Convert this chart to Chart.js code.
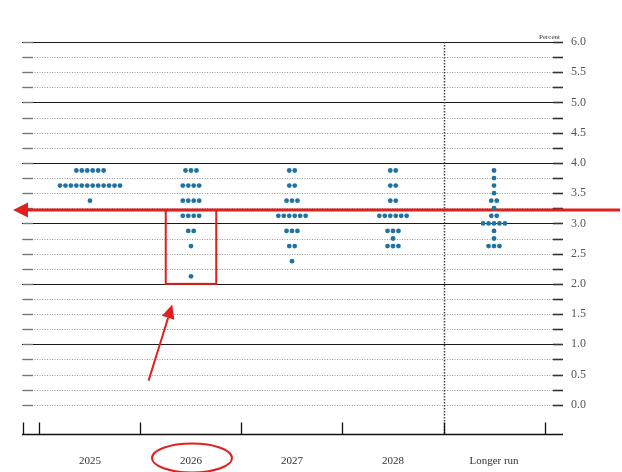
<!DOCTYPE html>
<html><head><meta charset="utf-8">
<script src="https://cdn.jsdelivr.net/npm/chart.js@4.4.1/dist/chart.umd.min.js"></script>
<style>html,body{margin:0;padding:0;background:#fff;} canvas{display:block;}</style>
</head><body>
<canvas id="c" width="622" height="472"></canvas>
<script>
// ---- data (FOMC dot plot, percent) ----
const categories = ['2025', '2026', '2027', '2028', 'Longer run'];
const rates2025  = [3.875, 3.625, 3.375];
const counts2025 = [6, 12, 1];
const rates2026  = [3.875, 3.625, 3.375, 3.125, 2.875, 2.625, 2.125];
const counts2026 = [3, 4, 4, 4, 2, 1, 1];
const rates2027  = [3.875, 3.625, 3.375, 3.125, 2.875, 2.625, 2.375];
const counts2027 = [2, 2, 3, 6, 3, 2, 1];
const rates2028  = [3.875, 3.625, 3.375, 3.125, 2.875, 2.75, 2.625];
const counts2028 = [2, 2, 2, 6, 3, 1, 3];
const ratesLR    = [3.875, 3.75, 3.625, 3.5, 3.375, 3.25, 3.125, 3.0, 2.875, 2.75, 2.625];
const countsLR   = [1, 1, 1, 1, 2, 1, 2, 5, 1, 1, 3];
const yTickLabels = ['0.0','0.5','1.0','1.5','2.0','2.5','3.0','3.5','4.0','4.5','5.0','5.5','6.0'];
const arrowLevel = 3.22;   // red horizontal annotation level
const boxLow = 2.0;        // red box bottom level

const groups = [[rates2025, counts2025], [rates2026, counts2026], [rates2027, counts2027], [rates2028, counts2028], [ratesLR, countsLR]];
const dotStep = 0.054;
const points = [];
groups.forEach(([rates, counts], i) => {
  rates.forEach((r, j) => {
    const n = counts[j];
    for (let k = 0; k < n; k++) points.push({ x: i + (k - (n - 1) / 2) * dotStep, y: r });
  });
});

const serif = '"Liberation Serif", "DejaVu Serif", serif';

const decor = {
  id: 'decor',
  beforeDatasetsDraw(chart) {
    const { ctx, chartArea: a, scales: { x, y } } = chart;
    ctx.save();
    // horizontal grid lines every 0.25
    for (let v = 0; v <= 6.0001; v += 0.25) {
      const py = Math.round(y.getPixelForValue(v)) + 0.5;
      const isInt = Math.abs(v - Math.round(v)) < 1e-6 && v > 0;
      ctx.beginPath();
      if (isInt) {
        ctx.strokeStyle = '#1a1a1a'; ctx.lineWidth = 1.2; ctx.setLineDash([]);
      } else {
        ctx.strokeStyle = '#999'; ctx.lineWidth = 1; ctx.setLineDash([1, 1.5]);
      }
      ctx.moveTo(a.left, py); ctx.lineTo(a.right, py); ctx.stroke();
      // end ticks
      ctx.setLineDash([]);
      ctx.strokeStyle = '#777'; ctx.lineWidth = 1.4;
      ctx.beginPath(); ctx.moveTo(a.left + 1, py); ctx.lineTo(a.left + 11, py); ctx.stroke();
      ctx.strokeStyle = '#333'; ctx.lineWidth = 1.6;
      ctx.beginPath(); ctx.moveTo(a.right - 10, py); ctx.lineTo(a.right, py); ctx.stroke();
    }
    // vertical dotted separator before "Longer run"
    const sx = Math.round(x.getPixelForValue(3.5)) + 0.5;
    ctx.setLineDash([1.5, 1.5]); ctx.strokeStyle = '#444'; ctx.lineWidth = 1.5;
    ctx.beginPath(); ctx.moveTo(sx, a.top); ctx.lineTo(sx, a.bottom); ctx.stroke();
    // bottom axis line with ticks
    ctx.setLineDash([]); ctx.strokeStyle = '#111'; ctx.lineWidth = 1.3;
    const by = a.bottom - 0.5;
    ctx.beginPath(); ctx.moveTo(a.left, by); ctx.lineTo(a.right, by);
    ctx.moveTo(a.left + 1.5, by); ctx.lineTo(a.left + 1.5, by - 12);
    for (let b = -0.5; b <= 4.5; b += 1) {
      const bx = Math.round(x.getPixelForValue(b)) + 0.5;
      ctx.moveTo(bx, by); ctx.lineTo(bx, by - 12);
    }
    ctx.stroke();
    // "Percent" label
    ctx.fillStyle = '#333'; ctx.font = '7px ' + serif;
    ctx.textAlign = 'right'; ctx.textBaseline = 'alphabetic';
    ctx.fillText('Percent', a.right - 3, a.top - 3);

    // red annotations
    const red = '#e0201f';
    ctx.strokeStyle = red; ctx.fillStyle = red;
    // horizontal arrow
    const ay = y.getPixelForValue(arrowLevel);
    ctx.lineWidth = 3;
    ctx.beginPath(); ctx.moveTo(26, ay); ctx.lineTo(chart.width - 2, ay); ctx.stroke();
    ctx.beginPath(); ctx.moveTo(13, ay); ctx.lineTo(28, ay - 7.5); ctx.lineTo(28, ay + 7.5); ctx.closePath(); ctx.fill();
    // box around 2026 lower dots
    ctx.lineWidth = 2;
    const bx1 = x.getPixelForValue(0.75), bx2 = x.getPixelForValue(1.25);
    const byt = y.getPixelForValue(arrowLevel), byb = y.getPixelForValue(boxLow);
    ctx.strokeRect(bx1, byt, bx2 - bx1, byb - byt);
    // diagonal arrow
    const tx = x.getPixelForValue(0.58), ty = y.getPixelForValue(0.4);
    const hx = x.getPixelForValue(0.815), hy = y.getPixelForValue(1.66);
    const ang = Math.atan2(hy - ty, hx - tx);
    const hl = 14, hw = 6.5;
    const baseX = hx - hl * Math.cos(ang), baseY = hy - hl * Math.sin(ang);
    ctx.beginPath(); ctx.moveTo(tx, ty); ctx.lineTo(baseX, baseY); ctx.stroke();
    ctx.beginPath(); ctx.moveTo(hx, hy);
    ctx.lineTo(baseX + hw * Math.sin(ang), baseY - hw * Math.cos(ang));
    ctx.lineTo(baseX - hw * Math.sin(ang), baseY + hw * Math.cos(ang));
    ctx.closePath(); ctx.fill();
    // ellipse around 2026 label
    const ex = x.getPixelForValue(1.01), ey = a.bottom + 23;
    ctx.beginPath(); ctx.ellipse(ex, ey, 40, 14.5, 0, 0, Math.PI * 2); ctx.stroke();
    ctx.restore();
  }
};

new Chart(document.getElementById('c'), {
  type: 'scatter',
  data: {
    datasets: [{
      data: points,
      pointRadius: 2.4,
      pointHoverRadius: 2.4,
      pointBorderWidth: 0,
      pointBackgroundColor: '#1f73a0',
      pointBorderColor: '#1f73a0'
    }]
  },
  options: {
    responsive: false,
    animation: false,
    events: [],
    layout: { padding: { left: 22, top: 42, right: 0, bottom: 0 } },
    plugins: { legend: { display: false }, tooltip: { enabled: false } },
    scales: {
      x: {
        type: 'linear',
        min: -0.673, max: 4.683,
        afterBuildTicks: s => { s.ticks = categories.map((c, i) => ({ value: i })); },
        afterFit: s => { s.height = 37; },
        ticks: {
          callback: (v, i) => categories[i],
          font: { family: serif, size: 11 },
          color: '#333',
          padding: 20,
          autoSkip: false,
          maxRotation: 0
        },
        grid: { display: false, drawTicks: false },
        border: { display: false }
      },
      y: {
        position: 'right',
        min: -0.5, max: 6,
        afterBuildTicks: s => { s.ticks = yTickLabels.map(t => ({ value: parseFloat(t) })); },
        afterFit: s => { s.width = 59; },
        ticks: {
          callback: (v, i) => yTickLabels[i],
          font: { family: serif, size: 12 },
          color: '#555',
          padding: 8
        },
        grid: { display: false, drawTicks: false },
        border: { display: false }
      }
    }
  },
  plugins: [decor]
});
</script>
</body></html>
